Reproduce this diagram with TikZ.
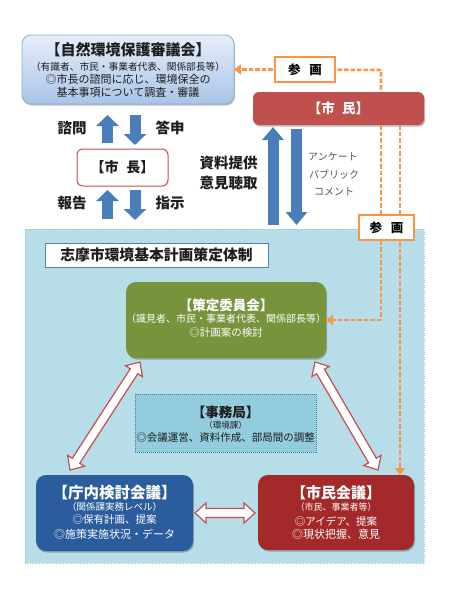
\documentclass[tikz,border=0pt]{standalone}
\usepackage{fontspec}
\setmainfont{Noto Sans CJK JP}
\usetikzlibrary{arrows.meta,calc,shadows}
\definecolor{orangeL}{HTML}{F79646}
\definecolor{arrblue}{HTML}{4A7EBB}
\definecolor{shiminred}{HTML}{C0504D}
\definecolor{sakgreen}{HTML}{77933C}
\definecolor{choblue}{HTML}{2B5C9E}
\definecolor{kaigired}{HTML}{A3292A}
\definecolor{regionblue}{HTML}{B7DEE8}
\definecolor{regionedge}{HTML}{9CC3D0}
\definecolor{jimufill}{HTML}{93CDDD}
\definecolor{jimuedge}{HTML}{31859C}
\definecolor{sgtop}{HTML}{E6EEF9}
\definecolor{sgbot}{HTML}{A9C4E6}
\definecolor{sgedge}{HTML}{8EAADB}
\definecolor{titleedge}{HTML}{4F81BD}
\definecolor{darktext}{HTML}{1E1E1E}
\definecolor{graytext}{HTML}{555555}
\newcommand\jfs[1]{\fontsize{#1}{#1}\selectfont}
\newcommand\dblarr[2]{%
  \coordinate (#1h) at ($(#1)!11pt!(#2)$);
  \coordinate (#2h) at ($(#2)!11pt!(#1)$);
  \draw[dblstyle] (#1) -- ($(#1h)!10pt!90:(#2)$) -- ($(#1h)!4.5pt!90:(#2)$)
    -- ($(#2h)!4.5pt!-90:(#1)$) -- ($(#2h)!10pt!-90:(#1)$) -- (#2)
    -- ($(#2h)!10pt!90:(#1)$) -- ($(#2h)!4.5pt!90:(#1)$)
    -- ($(#1h)!4.5pt!-90:(#2)$) -- ($(#1h)!10pt!-90:(#2)$) -- cycle;}
\begin{document}
\begin{tikzpicture}[x=1pt,y=1pt,
  blk/.style={inner sep=0pt, outer sep=0pt},
  shad/.style={drop shadow={shadow xshift=1pt, shadow yshift=-1.5pt, opacity=0.25, fill=black}},
  rbox/.style={blk, rounded corners=10pt, shad},
  sanbox/.style={blk, draw=orangeL, line width=1.2pt, fill=white, minimum width=#1, minimum height=25pt, font=\jfs{12.5}\bfseries},
  tx/.style={inner sep=0pt, anchor=center},
  wtx/.style={tx, text=white},
  dtx/.style={tx, text=darktext},
  lbl/.style={tx, text=darktext, font=\jfs{14.5}\bfseries},
  bluearr/.style={draw=arrblue, line width=11pt, -{Triangle[width=22pt,length=11pt]}},
  bigarr/.style={draw=arrblue, line width=11pt, -{Triangle[width=21pt,length=13pt]}},
  odash/.style={draw=orangeL, line width=2.6pt, dash pattern=on 4.5pt off 2pt},
  oarr/.style={odash, -{Triangle[width=10pt,length=7pt]}},
  dblstyle/.style={draw=shiminred, fill=white, line width=1.2pt, line join=miter}
]
\useasboundingbox (0,0) rectangle (450,-600);
\fill[white] (0,0) rectangle (450,-600);

% region
\node[blk, fill=regionblue, draw=regionedge, dotted, minimum width=399pt, minimum height=334pt] (region) at (224.5,-396) {};

% top boxes
\node[blk, rounded corners=9pt, top color=sgtop, bottom color=sgbot, draw=sgedge, line width=0.8pt, minimum width=212pt, minimum height=69pt, shad] (shingikai) at (128,-69.5) {};
\node[blk, rounded corners=6pt, fill=shiminred, minimum width=171pt, minimum height=33pt, shad, text=white, font=\jfs{13.5}\bfseries] (shimin) at (338.5,-108.5) {【市\hspace{0.55em}民】};
\node[blk, rounded corners=6pt, fill=white, draw=shiminred, line width=1pt, minimum width=91pt, minimum height=37pt, text=darktext, font=\jfs{14}\bfseries] (shicho) at (122.5,-167.5) {【市\hspace{0.55em}長】};

% title box
\node[blk, fill=white, draw=titleedge, line width=1pt, minimum width=223pt, minimum height=24pt, text=darktext, font=\jfs{14.8}\bfseries] (title) at (156.5,-255) {志摩市環境基本計画策定体制};

% lower boxes
\node[rbox, fill=sakgreen, minimum width=200pt, minimum height=76pt] (sakutei) at (226,-320) {};
\node[blk, fill=jimufill, draw=jimuedge, densely dotted, line width=1pt, minimum width=181pt, minimum height=58pt] (jimu) at (225.5,-423) {};
\node[rbox, fill=choblue, minimum width=157pt, minimum height=76pt] (chonai) at (114.5,-513) {};
\node[rbox, fill=kaigired, minimum width=156pt, minimum height=75pt] (kaigi) at (336,-512.5) {};

% orange dashed connectors
\coordinate (s1c) at (305,-69.5);
\coordinate (s2c) at (386.5,-227.5);
\coordinate (o1) at (381,-70);
\coordinate (o2) at (400,-125);
\draw[oarr] (s1c) -- (shingikai.east);
\draw[odash] (s1c) -- (o1) -- (o1 |- shimin.north);
\draw[odash] (o1 |- shimin.south) -- (o1 |- s2c);
\draw[odash] (o1 |- s2c) -- (o1 |- sakutei.east) coordinate (o3);
\draw[oarr] (o3) -- (sakutei.east);
\draw[oarr] (o2 |- shimin.south) -- (o2 |- kaigi.north);

\node[sanbox=60pt] (sank1) at (s1c) {参\hspace{0.7em}画};
\node[sanbox=55pt] (sank2) at (s2c) {参\hspace{0.7em}画};

% blue block arrows
\coordinate (q1t) at (107.5,-143); \coordinate (q1h) at (107.5,-115);
\coordinate (q2t) at (135,-115);   \coordinate (q2h) at (135,-145);
\coordinate (q3t) at (107.5,-219); \coordinate (q3h) at (107.5,-190);
\coordinate (q4t) at (135,-190);   \coordinate (q4h) at (135,-220);
\coordinate (b1t) at (273,-225);   \coordinate (b1h) at (273,-127);
\coordinate (b2t) at (296.5,-129); \coordinate (b2h) at (296.5,-225);
\draw[bluearr] (q1t) -- (q1h);
\draw[bluearr] (q2t) -- (q2h);
\draw[bluearr] (q3t) -- (q3h);
\draw[bluearr] (q4t) -- (q4h);
\draw[bigarr] (b1t) -- (b1h);
\draw[bigarr] (b2t) -- (b2h);

% white double arrows
\coordinate (d1a) at (140,-362); \coordinate (d1b) at (70,-470);
\coordinate (d2a) at (315,-362); \coordinate (d2b) at (378,-470);
\coordinate (d3a) at (195,-513); \coordinate (d3b) at (255,-513);
\dblarr{d1a}{d1b}
\dblarr{d2a}{d2b}
\dblarr{d3a}{d3b}

% texts: shingikai
\node[dtx, font=\jfs{15}\bfseries] (sg1) at (128,-50) {【自然環境保護審議会】};
\node[dtx, font=\jfs{9.7}] (sg2) at (128,-67) {（有識者、市民・事業者代表、関係部長等）};
\node[dtx, font=\jfs{11}] (sg3) at (128,-79) {◎市長の諮問に応じ、環境保全の};
\node[dtx, font=\jfs{11}] (sg4) at (128,-92) {基本事項について調査・審議};

% labels
\node[lbl] (l1) at (72,-128) {諮問};
\node[lbl] (l2) at (170,-128) {答申};
\node[lbl] (l3) at (72,-203) {報告};
\node[lbl] (l4) at (170,-203) {指示};
\node[lbl] (l5) at (228.5,-163) {資料提供};
\node[lbl] (l6) at (228.5,-183) {意見聴取};
\node[tx, text=graytext, font=\jfs{10}] (g1) at (333,-157) {アンケート};
\node[tx, text=graytext, font=\jfs{10}] (g2) at (334,-175) {パブリック};
\node[tx, text=graytext, font=\jfs{10}] (g3) at (334,-192) {コメント};

% sakutei texts
\node[wtx, font=\jfs{13.5}\bfseries] (sk1) at (226,-305) {【策定委員会】};
\node[wtx, font=\jfs{10}] (sk2) at (226,-319) {（識見者、市民・事業者代表、関係部長等）};
\node[wtx, font=\jfs{10.5}] (sk3) at (226,-333) {◎計画案の検討};

% jimu texts
\node[dtx, font=\jfs{13.5}\bfseries] (jm1) at (225.5,-412) {【事務局】};
\node[dtx, font=\jfs{8.5}] (jm2) at (225.5,-425) {（環境課）};
\node[dtx, font=\jfs{10.5}] (jm3) at (225.5,-438) {◎会議運営、資料作成、部局間の調整};

% chonai texts
\node[wtx, font=\jfs{15.5}\bfseries] (ch1) at (114.5,-493) {【庁内検討会議】};
\node[wtx, font=\jfs{9.5}] (ch2) at (114.5,-507) {（関係課実務レベル）};
\node[wtx, font=\jfs{10.5}] (ch3) at (114.5,-520) {◎保有計画、提案};
\node[wtx, font=\jfs{11}] (ch4) at (114.5,-534) {◎施策実施状況・データ};

% kaigi texts
\node[wtx, font=\jfs{15}\bfseries] (kg1) at (336,-493) {【市民会議】};
\node[wtx, font=\jfs{9}] (kg2) at (336,-507) {（市民、事業者等）};
\node[wtx, font=\jfs{10.5}] (kg3) at (336,-521) {◎アイデア、提案};
\node[wtx, font=\jfs{11}] (kg4) at (336,-534) {◎現状把握、意見};
\end{tikzpicture}
\end{document}
